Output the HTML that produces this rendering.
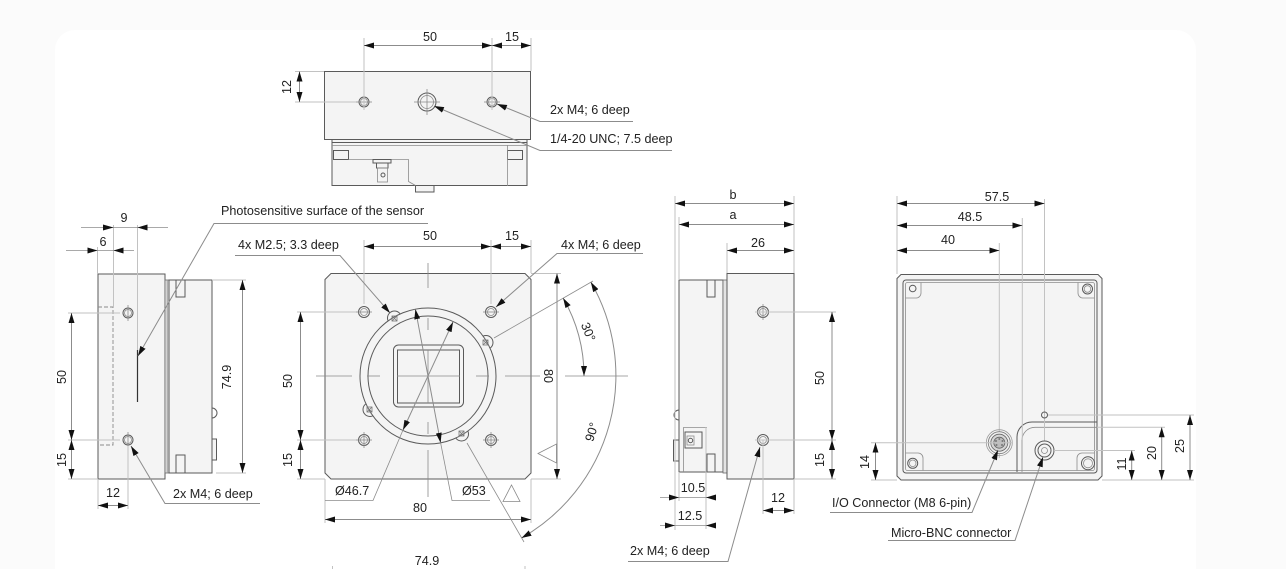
<!DOCTYPE html>
<html><head><meta charset="utf-8">
<style>
html,body{margin:0;padding:0;background:#fbfbfb;width:1286px;height:569px;overflow:hidden;}
svg{display:block}
text{font-family:"Liberation Sans",Arial,sans-serif;font-size:12.6px;fill:#222;}
.o{stroke:#5a5a5a;stroke-width:1;fill:#f4f4f4}
.l{stroke:#5a5a5a;stroke-width:1;fill:none}
.t{stroke:#8c8c8c;stroke-width:0.8;fill:none}
.d{stroke:#8c8c8c;stroke-width:1;fill:none;marker-start:url(#a);marker-end:url(#a)}
.e{stroke:#c2c2c2;stroke-width:1;fill:none}
.m{text-anchor:middle}
.ld{stroke:#8c8c8c;stroke-width:1;fill:none;marker-end:url(#a)}
.ah{fill:#111;stroke:none}
.c{stroke:#8a8a8a;stroke-width:0.8;fill:none}
</style></head><body>
<svg width="1286" height="569" viewBox="0 0 1286 569" xmlns="http://www.w3.org/2000/svg">
<defs><marker id="a" viewBox="0 0 10 6" refX="10" refY="3" markerWidth="10" markerHeight="6" markerUnits="userSpaceOnUse" orient="auto-start-reverse"><path d="M0,0L10,3L0,6z" fill="#111"/></marker></defs>
<path d="M55,569V50A20,20 0 0 1 75,30H1176A20,20 0 0 1 1196,50V569Z" fill="#ffffff"/>

<!-- ================= TOP VIEW ================= -->
<rect class="o" x="415.5" y="185.5" width="18.5" height="6.5"/>
<rect class="o" x="332" y="139.5" width="195" height="46"/>
<rect class="o" x="324.5" y="71.5" width="206" height="68"/>
<line class="l" x1="332" y1="142.5" x2="527" y2="142.5"/>
<line class="t" x1="332" y1="145.5" x2="527" y2="145.5"/>
<rect class="l" x="333.5" y="150.5" width="15" height="9"/>
<rect class="l" x="507.5" y="150.5" width="15" height="9"/>
<line class="t" x1="507.5" y1="145" x2="507.5" y2="186"/>
<path class="t" d="M348.5,159.5H408.5V181.5L415.5,185.5"/>
<rect class="l" x="373" y="159.5" width="18" height="3.5"/>
<rect class="l" x="376.5" y="163" width="11.5" height="5"/>
<rect class="t" x="377.5" y="168" width="10" height="14"/>
<circle class="l" cx="383" cy="175" r="2"/>
<circle class="l" cx="364" cy="102" r="5"/><circle class="t" cx="364" cy="102" r="3.5"/>
<circle class="l" cx="427" cy="102" r="9"/><circle class="t" cx="427" cy="102" r="6.5"/>
<circle class="l" cx="492" cy="102" r="5"/><circle class="t" cx="492" cy="102" r="3.5"/>
<line class="c" x1="356" y1="102" x2="372" y2="102"/>
<line class="c" x1="414" y1="102" x2="440" y2="102"/>
<line class="c" x1="427" y1="89" x2="427" y2="115"/>
<line class="c" x1="484" y1="102" x2="500" y2="102"/>
<line class="e" x1="364" y1="38" x2="364" y2="110"/>
<line class="e" x1="492" y1="38" x2="492" y2="110"/>
<line class="e" x1="531" y1="38" x2="531" y2="71"/>
<line class="d" x1="364" y1="45.5" x2="492" y2="45.5"/>
<line class="d" x1="492" y1="45.5" x2="531" y2="45.5"/>
<text class="m" x="430" y="41">50</text><text class="m" x="512" y="41">15</text>
<line class="e" x1="295" y1="71.5" x2="324" y2="71.5"/>
<line class="e" x1="295" y1="102" x2="356" y2="102"/>
<line class="d" x1="299.5" y1="71.5" x2="299.5" y2="102"/>
<text class="m" transform="translate(291,87) rotate(-90)">12</text>
<path class="ld" d="M633,121.5H540L497,104"/>
<text x="550" y="114">2x M4; 6 deep</text>
<path class="ld" d="M672,150.5H540L434,106"/>
<text x="550" y="143">1/4-20 UNC; 7.5 deep</text>

<!-- ================= LEFT SIDE VIEW ================= -->
<rect class="o" x="98" y="274" width="67" height="205"/>
<rect x="165" y="280" width="4" height="193" fill="#e4e4e4" stroke="#6a6a6a" stroke-width="0.8"/>
<line class="t" x1="167.2" y1="280" x2="167.2" y2="473"/>
<rect class="o" x="169" y="280" width="43" height="193"/>
<rect class="l" x="176" y="280" width="9" height="17"/>
<rect class="l" x="176" y="455" width="9" height="18"/>
<path class="l" d="M212,408A5,5 0 0 1 212,418"/>
<rect class="o" x="212" y="439" width="4.5" height="21"/>
<path d="M98,307H113V445H98" fill="none" stroke="#8a8a8a" stroke-width="0.9" stroke-dasharray="4,2"/>
<circle class="l" cx="128" cy="313" r="5"/><circle class="t" cx="128" cy="313" r="3.5"/>
<circle class="l" cx="128" cy="440" r="5"/><circle class="t" cx="128" cy="440" r="3.5"/>
<line class="c" x1="128" y1="305" x2="128" y2="321"/>
<line class="c" x1="128" y1="432" x2="128" y2="446"/>
<line class="e" x1="137.5" y1="225" x2="137.5" y2="350"/>
<line x1="137.5" y1="350" x2="137.5" y2="402" stroke="#333" stroke-width="1.2"/>
<line class="e" x1="113.5" y1="225" x2="113.5" y2="307"/>
<line class="e" x1="97.5" y1="247" x2="97.5" y2="274"/>
<!-- 9 -->
<line class="t" x1="81" y1="227.5" x2="168" y2="227.5"/>
<polygon class="ah" points="103,224.5 113.5,227.5 103,230.5"/>
<polygon class="ah" points="147.5,224.5 137.5,227.5 147.5,230.5"/>
<text class="m" x="124" y="222">9</text>
<!-- 6 -->
<line class="t" x1="66" y1="250.5" x2="134" y2="250.5"/>
<polygon class="ah" points="87.5,247.5 97.5,250.5 87.5,253.5"/>
<polygon class="ah" points="123.5,247.5 113.5,250.5 123.5,253.5"/>
<text class="m" x="103" y="246">6</text>
<!-- 50/15 -->
<line class="e" x1="68" y1="313" x2="120" y2="313"/>
<line class="e" x1="68" y1="440" x2="120" y2="440"/>
<line class="e" x1="68" y1="479" x2="98" y2="479"/>
<line class="d" x1="71.5" y1="313" x2="71.5" y2="440"/>
<line class="d" x1="71.5" y1="440" x2="71.5" y2="479"/>
<text class="m" transform="translate(66,377) rotate(-90)">50</text>
<text class="m" transform="translate(66,460) rotate(-90)">15</text>
<!-- 74.9 -->
<line class="e" x1="212" y1="280" x2="246" y2="280"/>
<line class="e" x1="216" y1="473" x2="246" y2="473"/>
<line class="d" x1="242.5" y1="280" x2="242.5" y2="473"/>
<text class="m" transform="translate(231,377) rotate(-90)">74.9</text>
<!-- 12 -->
<line class="e" x1="98" y1="479" x2="98" y2="509"/>
<line class="e" x1="128" y1="446" x2="128" y2="509"/>
<line class="d" x1="98" y1="505.5" x2="128" y2="505.5"/>
<text class="m" x="113" y="497">12</text>
<path class="ld" d="M260,503.5H165L131,446"/>
<text x="173" y="498">2x M4; 6 deep</text>
<path class="ld" d="M428,223.5H214L138,356"/>
<text x="221" y="215">Photosensitive surface of the sensor</text>

<!-- ================= FRONT VIEW ================= -->
<path class="o" d="M331,273.5H525L531,279.5V473L525,479H331L325,473V279.5Z" stroke="#444"/>
<circle class="l" cx="364" cy="312" r="5.5"/><circle class="t" cx="364" cy="312" r="3.5"/>
<circle class="l" cx="491" cy="312" r="5.5"/><circle class="t" cx="491" cy="312" r="3.5"/>
<circle class="l" cx="364" cy="440" r="5.5"/><circle class="t" cx="364" cy="440" r="3.5"/>
<circle class="l" cx="491" cy="440" r="5.5"/><circle class="t" cx="491" cy="440" r="3.5"/>
<line class="c" x1="356" y1="440" x2="372" y2="440"/><line class="c" x1="364" y1="432" x2="364" y2="448"/>
<line class="c" x1="483" y1="440" x2="499" y2="440"/><line class="c" x1="491" y1="432" x2="491" y2="448"/>
<line class="c" x1="356" y1="312" x2="372" y2="312"/><line class="c" x1="483" y1="312" x2="499" y2="312"/>
<!-- lobes -->
<circle class="o" cx="486" cy="342.5" r="7"/>
<circle class="o" cx="461.5" cy="434" r="7"/>
<circle class="o" cx="370" cy="409.5" r="7"/>
<circle class="o" cx="394.5" cy="318" r="7"/>
<circle class="o" cx="428" cy="376" r="68"/>
<circle class="l" cx="428" cy="376" r="60"/>
<!-- screws -->
<g stroke="#777" stroke-width="0.8" fill="none">
<rect x="483" y="340" width="5" height="5"/><path d="M483,340l5,5M488,340l-5,5"/>
<rect x="459" y="431" width="5" height="5"/><path d="M459,431l5,5M464,431l-5,5"/>
<rect x="367" y="407" width="5" height="5"/><path d="M367,407l5,5M372,407l-5,5"/>
<rect x="392" y="316" width="5" height="5"/><path d="M392,316l5,5M397,316l-5,5"/>
</g>
<!-- sensor -->
<rect class="l" x="393.5" y="345" width="70" height="62" rx="5"/>
<rect class="l" x="397.5" y="350" width="62" height="53"/>
<!-- center lines -->
<g class="c">
<line x1="316" y1="376" x2="352" y2="376"/><line x1="367" y1="376" x2="380" y2="376"/>
<line x1="397" y1="376" x2="460" y2="376"/><line x1="476" y1="376" x2="489" y2="376"/>
<line x1="505" y1="376" x2="540" y2="376"/><line x1="565" y1="376" x2="628" y2="376"/>
<line x1="428" y1="263" x2="428" y2="288"/><line x1="428" y1="318" x2="428" y2="330"/>
<line x1="428" y1="350" x2="428" y2="403"/><line x1="428" y1="422" x2="428" y2="434"/>
<line x1="428" y1="450" x2="428" y2="497"/>
</g>
<!-- dims top -->
<line class="e" x1="364" y1="240" x2="364" y2="304"/>
<line class="e" x1="491" y1="240" x2="491" y2="304"/>
<line class="e" x1="531" y1="240" x2="531" y2="273"/>
<line class="d" x1="364" y1="246.5" x2="491" y2="246.5"/>
<line class="d" x1="491" y1="246.5" x2="531" y2="246.5"/>
<text class="m" x="430" y="240">50</text><text class="m" x="512" y="240">15</text>
<!-- dims left -->
<line class="e" x1="297" y1="312" x2="356" y2="312"/>
<line class="e" x1="297" y1="440" x2="356" y2="440"/>
<line class="e" x1="297" y1="479" x2="325" y2="479"/>
<line class="d" x1="300.5" y1="312" x2="300.5" y2="440"/>
<line class="d" x1="300.5" y1="440" x2="300.5" y2="479"/>
<text class="m" transform="translate(292,381) rotate(-90)">50</text>
<text class="m" transform="translate(292,460) rotate(-90)">15</text>
<!-- dims right 80 -->
<line class="e" x1="531" y1="273.5" x2="561" y2="273.5"/>
<line class="e" x1="531" y1="479" x2="561" y2="479"/>
<line class="d" x1="557" y1="273.5" x2="557" y2="479"/>
<text class="m" transform="translate(544,376) rotate(90)">80</text>
<!-- dims bottom 80 -->
<line class="e" x1="325" y1="479" x2="325" y2="523"/>
<line class="e" x1="531" y1="479" x2="531" y2="523"/>
<line class="d" x1="325" y1="519.5" x2="531" y2="519.5"/>
<text class="m" x="420" y="512">80</text>
<!-- diameters -->
<line class="d" x1="403" y1="430" x2="453" y2="322"/>
<path class="t" d="M403,430L373,500.5H325" stroke-width="1"/>
<text x="335" y="495">Ø46.7</text>
<line class="d" x1="415.4" y1="309.2" x2="440.6" y2="442.8"/>
<path class="t" d="M440.6,442.8L452,500.5H490" stroke-width="1"/>
<text x="462" y="495">Ø53</text>
<!-- leaders -->
<path class="ld" d="M643,253.5H557L496,307"/>
<text x="561" y="249">4x M4; 6 deep</text>
<path class="ld" d="M235,255.5H340L390,313"/>
<text x="238" y="249">4x M2.5; 3.3 deep</text>
<!-- angles -->
<line class="t" x1="494" y1="338" x2="593" y2="281" stroke-width="1"/>
<line class="t" x1="467" y1="443" x2="524" y2="542" stroke-width="1"/>
<path class="d" d="M590.8,282A187,187 0 0 1 521.5,538"/>
<path class="d" d="M563.1,298A156,156 0 0 1 584,376"/>
<text class="m" transform="translate(584.3,333.5) rotate(68)">30°</text>
<text class="m" transform="translate(595.8,433.2) rotate(-73)">90°</text>
<polygon points="538,453.5 556.5,444 556.5,463" fill="none" stroke="#888" stroke-width="0.8"/>
<polygon points="503,501.5 520,501.5 511.5,485" fill="none" stroke="#888" stroke-width="0.8"/>
<text class="m" x="427" y="565">74.9</text>
<line class="e" x1="332.5" y1="566" x2="332.5" y2="569"/>
<line class="e" x1="525" y1="566" x2="525" y2="569"/>

<!-- ================= SIDE VIEW 2 ================= -->
<rect class="o" x="679" y="280" width="44" height="192"/>
<rect x="723" y="280" width="4" height="193" fill="#e4e4e4" stroke="#6a6a6a" stroke-width="0.8"/>
<rect class="o" x="727" y="273.5" width="67" height="205.5"/>
<rect class="l" x="707" y="280" width="8" height="17"/>
<rect class="l" x="707" y="454" width="8" height="18"/>
<path class="t" d="M683.5,472V427.5H707" stroke-width="1"/>
<rect class="l" x="685" y="432" width="17" height="16"/>
<rect class="t" x="687" y="436" width="7" height="9"/>
<circle class="l" cx="690.5" cy="440.5" r="2.2"/>
<rect class="o" x="673.5" y="440" width="5.5" height="21"/>
<path class="l" d="M679,410A5,5 0 0 0 679,420"/>
<circle class="l" cx="763" cy="312" r="5.5"/><circle class="t" cx="763" cy="312" r="3.5"/>
<circle class="l" cx="763" cy="440" r="5.5"/><circle class="t" cx="763" cy="440" r="3.5"/>
<line class="c" x1="763" y1="304" x2="763" y2="320"/>
<line class="e" x1="675" y1="196" x2="675" y2="530"/>
<line class="e" x1="679" y1="217" x2="679" y2="280"/>
<line class="e" x1="679" y1="472" x2="679" y2="501"/>
<line class="e" x1="794" y1="196" x2="794" y2="273"/>
<line class="e" x1="727" y1="243" x2="727" y2="273"/>
<line class="d" x1="675" y1="203.5" x2="794" y2="203.5"/>
<text class="m" x="733" y="199">b</text>
<line class="d" x1="679" y1="224.5" x2="794" y2="224.5"/>
<text class="m" x="733" y="219">a</text>
<line class="d" x1="727" y1="250.5" x2="794" y2="250.5"/>
<text class="m" x="758" y="247">26</text>
<line class="e" x1="706" y1="427" x2="706" y2="529"/>
<line class="t" x1="660" y1="497.5" x2="716" y2="497.5"/>
<polygon class="ah" points="669,494.5 679,497.5 669,500.5"/>
<polygon class="ah" points="716,494.5 706,497.5 716,500.5"/>
<text class="m" x="693" y="492">10.5</text>
<line class="t" x1="660" y1="525.5" x2="716" y2="525.5"/>
<polygon class="ah" points="665,522.5 675,525.5 665,528.5"/>
<polygon class="ah" points="716,522.5 706,525.5 716,528.5"/>
<text class="m" x="690" y="520">12.5</text>
<line class="e" x1="755" y1="312" x2="836" y2="312"/>
<line class="e" x1="755" y1="440" x2="836" y2="440"/>
<line class="e" x1="794" y1="479" x2="836" y2="479"/>
<line class="d" x1="832" y1="312" x2="832" y2="440"/>
<line class="d" x1="832" y1="440" x2="832" y2="479"/>
<text class="m" transform="translate(824,378) rotate(-90)">50</text>
<text class="m" transform="translate(824,460) rotate(-90)">15</text>
<line class="e" x1="763" y1="440" x2="763" y2="514"/>
<line class="e" x1="794" y1="479" x2="794" y2="514"/>
<line class="d" x1="763" y1="510.5" x2="794" y2="510.5"/>
<text class="m" x="778" y="502">12</text>
<path class="ld" d="M628,561.5H728L760,447"/>
<text x="630" y="555">2x M4; 6 deep</text>

<!-- ================= BACK VIEW ================= -->
<path class="o" d="M901,274.5H1098L1102,278.5V476L1098,480H901L897,476V278.5Z" stroke="#555"/>
<rect class="l" x="903" y="280" width="194" height="193" rx="3"/>
<rect class="t" x="905.5" y="282.5" width="189" height="188" rx="2"/>
<!-- corner recesses -->
<circle class="l" cx="912.7" cy="288.5" r="3.3"/>
<path class="t" d="M905.5,298H916A5,5 0 0 0 921,293V282.5"/>
<circle class="l" cx="1087.5" cy="289" r="5"/><circle class="t" cx="1087.5" cy="289" r="3.3"/>
<path class="t" d="M1078,282.5V293A5,5 0 0 0 1083,298H1094.5"/>
<circle class="l" cx="912.7" cy="463.3" r="5"/><circle class="t" cx="912.7" cy="463.3" r="3.3"/>
<path class="t" d="M905.5,453H918A5,5 0 0 1 923,458V470.5"/>
<circle class="l" cx="1088" cy="463.3" r="6.5"/><circle class="t" cx="1088" cy="463.3" r="4.5"/>
<path class="t" d="M1094.5,453H1082A5,5 0 0 0 1077,458V470.5"/>
<!-- L panel -->
<path class="l" d="M1017,472V437A15,15 0 0 1 1032,422H1097" stroke="#777"/>
<path class="t" d="M1022,472V440A13,13 0 0 1 1035,427.3H1097"/>
<!-- ext lines -->
<line class="e" x1="999.3" y1="243" x2="999.3" y2="458"/>
<line class="e" x1="1022.3" y1="218" x2="1022.3" y2="440"/>
<line class="e" x1="1044.5" y1="199" x2="1044.5" y2="460"/>
<line class="e" x1="897" y1="196" x2="897" y2="274"/>
<!-- small hole, BNC, IO -->
<circle class="l" cx="1044.5" cy="415" r="3"/>
<circle class="o" cx="1044.5" cy="450.5" r="9.5"/>
<circle class="l" cx="1044.5" cy="450.5" r="6.5"/>
<circle class="t" cx="1044.5" cy="450.5" r="3"/>
<circle cx="999.3" cy="442.7" r="13" fill="none" stroke="#999" stroke-width="0.8"/>
<circle cx="999.3" cy="442.7" r="11" fill="#efefef" stroke="#777" stroke-width="0.8"/>
<circle cx="999.3" cy="442.7" r="8.5" fill="#d6d6d6" stroke="#666" stroke-width="0.8"/>
<circle cx="999.3" cy="442.7" r="5.5" fill="#bdbdbd" stroke="#666" stroke-width="0.8"/>
<g fill="#777"><circle cx="999.3" cy="439" r="1"/><circle cx="1002.5" cy="441" r="1"/><circle cx="1002" cy="445" r="1"/><circle cx="996.5" cy="445" r="1"/><circle cx="996" cy="441" r="1"/></g>
<!-- dims top -->
<line class="d" x1="897" y1="203.5" x2="1044.5" y2="203.5"/>
<text class="m" x="997" y="201">57.5</text>
<line class="d" x1="897" y1="225.5" x2="1022.3" y2="225.5"/>
<text class="m" x="970" y="221">48.5</text>
<line class="d" x1="897" y1="250.5" x2="999.3" y2="250.5"/>
<text class="m" x="948" y="244">40</text>
<!-- dims left 14 -->
<line class="e" x1="871" y1="442.7" x2="1013" y2="442.7"/>
<line class="e" x1="871" y1="480" x2="897" y2="480"/>
<line class="d" x1="875.5" y1="442.7" x2="875.5" y2="480"/>
<text class="m" transform="translate(869,462) rotate(-90)">14</text>
<!-- dims right -->
<line class="e" x1="1048" y1="415" x2="1194" y2="415"/>
<line class="e" x1="1097" y1="427.3" x2="1165" y2="427.3"/>
<line class="e" x1="1054" y1="450.5" x2="1135" y2="450.5"/>
<line class="e" x1="1102" y1="480" x2="1194" y2="480"/>
<line class="d" x1="1131.7" y1="450.5" x2="1131.7" y2="480"/>
<text class="m" transform="translate(1126,464) rotate(-90)">11</text>
<line class="d" x1="1161.7" y1="427.3" x2="1161.7" y2="480"/>
<text class="m" transform="translate(1156,453) rotate(-90)">20</text>
<line class="d" x1="1190" y1="415" x2="1190" y2="480"/>
<text class="m" transform="translate(1184,446) rotate(-90)">25</text>
<!-- leaders -->
<path class="ld" d="M830,512.5H972L998,450"/>
<text x="832" y="507">I/O Connector (M8 6-pin)</text>
<path class="ld" d="M888,540.5H1015L1043,457"/>
<text x="891" y="537">Micro-BNC connector</text>
</svg>
</body></html>
